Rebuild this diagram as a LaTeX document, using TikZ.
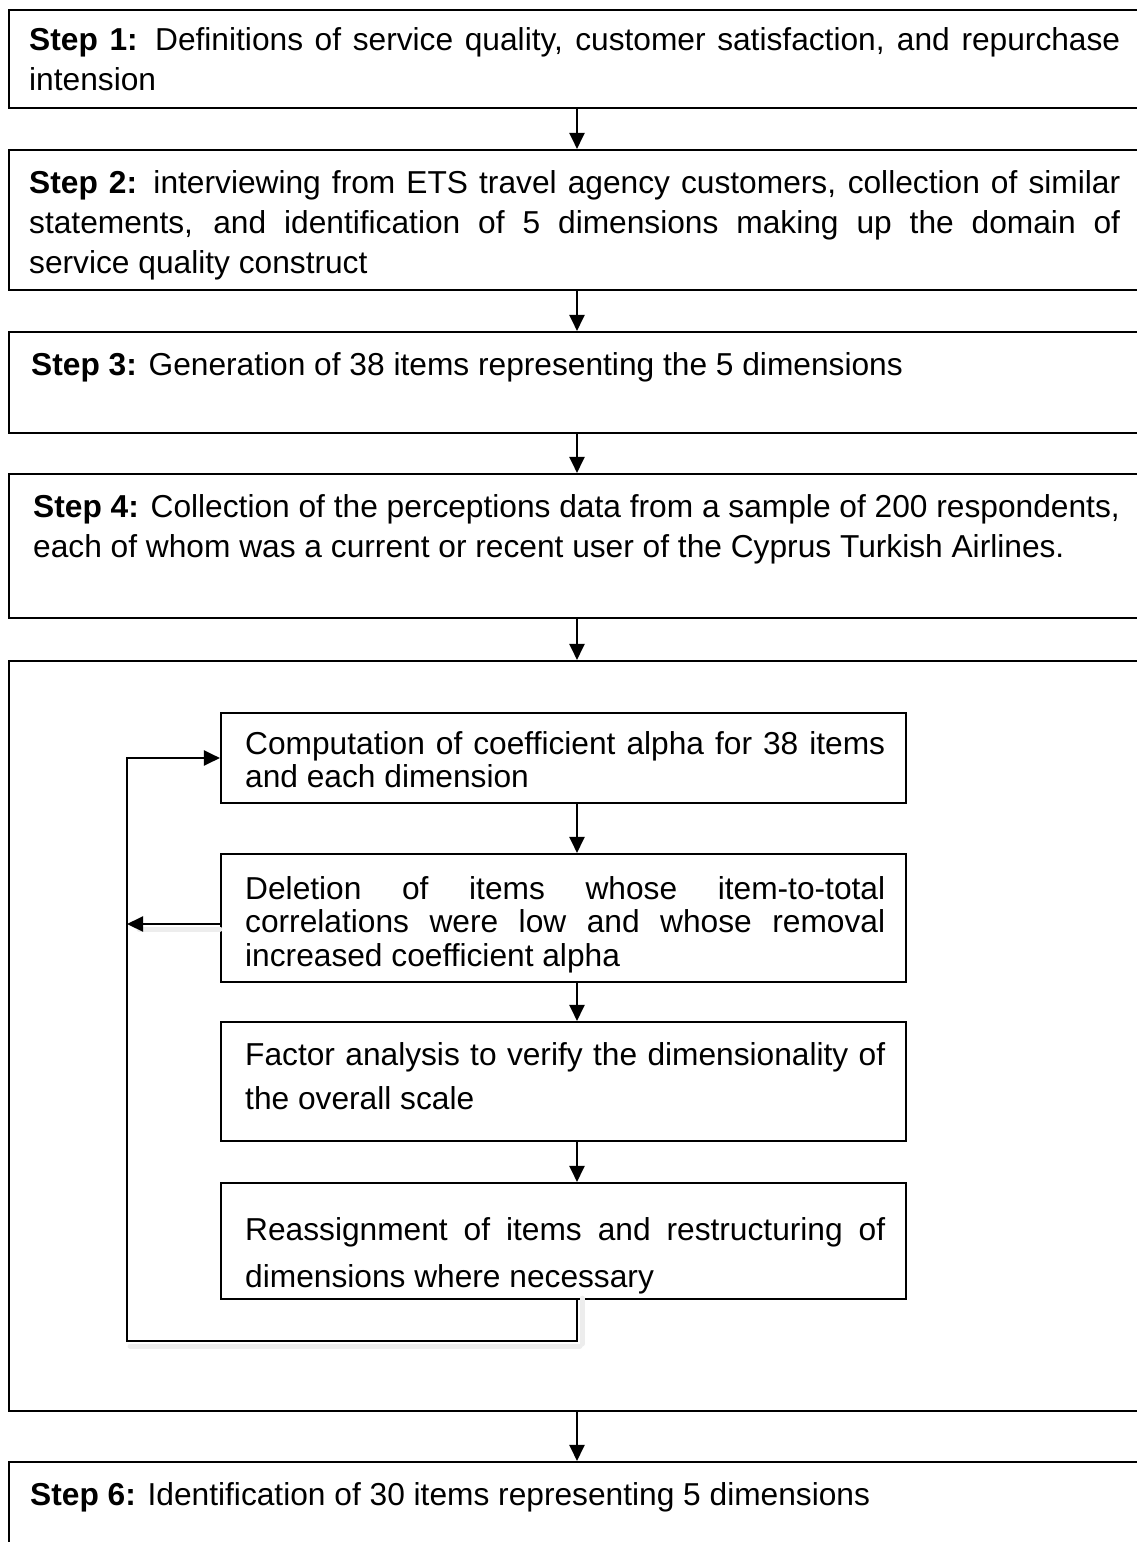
\documentclass[tikz,border=0pt]{standalone}
\usepackage{fontspec}
\setmainfont{Liberation Sans}
\usetikzlibrary{arrows.meta}

% a line stretched to a given width (justified)
\newcommand\jline[2]{\makebox[#1][s]{#2}}

\begin{document}
\begin{tikzpicture}[x=1pt,y=-1pt,
  frame/.style={draw, line width=2.1pt, rectangle, inner sep=0pt},
  outerbox/.style={frame, minimum width=1136pt},
  innerbox/.style={frame, minimum width=685pt},
  txt/.style={anchor=north west, inner sep=0pt, align=left},
  bigtxt/.style={txt, font=\fontsize{31.7}{40}\selectfont},
  flow/.style={line width=2.1pt, -{Triangle[length=16pt,width=15pt]}},
  shade/.style={line width=5pt, draw=black!7, line cap=round},
]
\clip (0,0) rectangle (1137,1542);

% main steps
\node[outerbox, minimum height=98pt]  (s1) at (577,59) {};
\node[outerbox, minimum height=140pt] (s2) at (577,220) {};
\node[outerbox, minimum height=101pt] (s3) at (577,382.5) {};
\node[outerbox, minimum height=144pt] (s4) at (577,546) {};
\node[outerbox, minimum height=750pt] (s5) at (577,1036) {};
\node[outerbox, minimum height=98pt]  (s6) at (577,1511) {};

% refinement loop inside step 5
\node[innerbox, minimum height=90pt]  (bA) at (563.5,758) {};
\node[innerbox, minimum height=128pt] (bB) at (563.5,918) {};
\node[innerbox, minimum height=119pt] (bC) at (563.5,1081.5) {};
\node[innerbox, minimum height=116pt] (bD) at (563.5,1241) {};

% texts
\node[bigtxt] (t1) at (29,27) {\jline{1091pt}{\textbf{Step 1:} Definitions of service quality, customer satisfaction, and repurchase}\\ intension};
\node[bigtxt] (t2) at (29,170) {\jline{1091pt}{\textbf{Step 2:} interviewing from ETS travel agency customers, collection of similar}\\ \jline{1091pt}{statements, and identification of 5 dimensions making up the domain of}\\ service quality construct};
\node[bigtxt] (t3) at (31,352) {\textbf{Step 3:} Generation of 38 items representing the 5 dimensions};
\node[bigtxt] (t4) at (33,494) {\textbf{Step 4:} Collection of the perceptions data from a sample of 200 respondents,\\ each of whom was a current or recent user of the Cyprus Turkish Airlines.};
\node[bigtxt] (t6) at (30,1482) {\textbf{Step 6:} Identification of 30 items representing 5 dimensions};

\node[txt, font=\fontsize{31.7}{33.5}\selectfont] (tA) at (245,731) {\jline{640pt}{Computation of coefficient alpha for 38 items}\\ and each dimension};
\node[txt, font=\fontsize{31.7}{33.5}\selectfont] (tB) at (245,876) {\jline{640pt}{Deletion of items whose item-to-total}\\ \jline{640pt}{correlations were low and whose removal}\\ increased coefficient alpha};
\node[txt, font=\fontsize{31.7}{44}\selectfont] (tC) at (245,1042) {\jline{640pt}{Factor analysis to verify the dimensionality of}\\ the overall scale};
\node[txt, font=\fontsize{31.7}{47}\selectfont] (tD) at (245,1217) {\jline{640pt}{Reassignment of items and restructuring of}\\ dimensions where necessary};

% connector guides
\coordinate (ax) at (577,0);
\coordinate (lpR) at (577,1341);
\coordinate (lpL) at (127,1341);
\coordinate (rail) at (127,924);

% soft shadows under the loop
\draw[shade] ([xshift=3pt,yshift=-5pt]lpR) -- ([xshift=3pt,yshift=-5pt]lpL);
\draw[shade] ([xshift=5pt,yshift=2pt]bD.south -| ax) -- ([xshift=5pt,yshift=-3pt]lpR);
\draw[shade] ([yshift=-5pt]bB.west |- rail) -- ([xshift=12pt,yshift=-5pt]rail);

% step flow
\draw[flow] (s1.south -| ax) -- (s2.north -| ax);
\draw[flow] (s2.south -| ax) -- (s3.north -| ax);
\draw[flow] (s3.south -| ax) -- (s4.north -| ax);
\draw[flow] (s4.south -| ax) -- (s5.north -| ax);
\draw[flow] (s5.south -| ax) -- (s6.north -| ax);

\draw[flow] (bA.south -| ax) -- (bB.north -| ax);
\draw[flow] (bB.south -| ax) -- (bC.north -| ax);
\draw[flow] (bC.south -| ax) -- (bD.north -| ax);

% feedback loop
\draw[flow] (bD.south -| ax) -- (lpR) -- (lpL) -- (lpL |- bA.west) -- (bA.west);
\draw[flow] (bB.west |- rail) -- (rail);
\end{tikzpicture}
\end{document}
